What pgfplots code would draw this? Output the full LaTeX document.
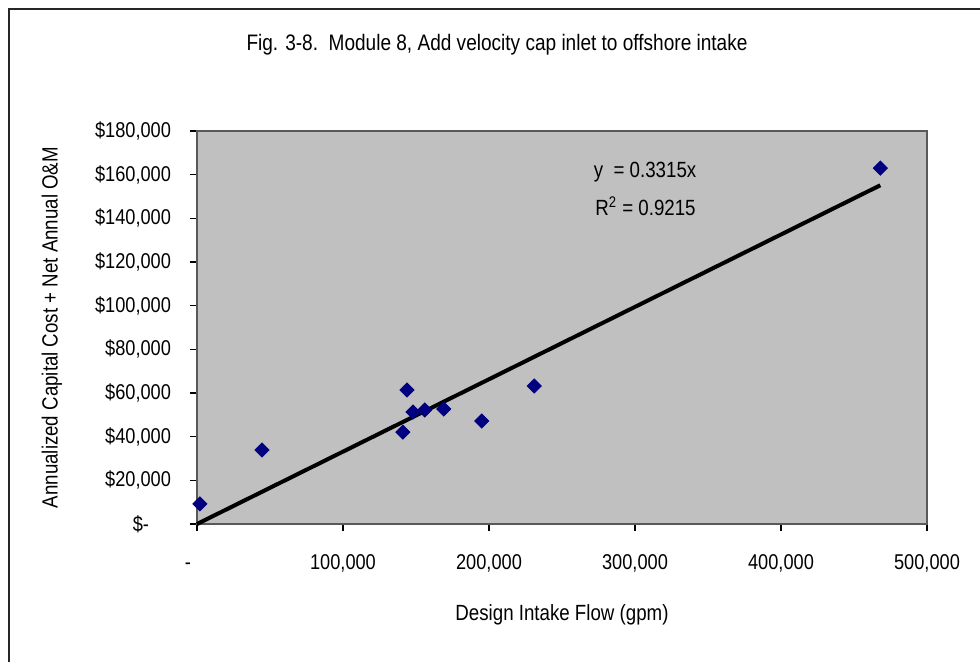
\documentclass[border=0pt]{standalone}
\usepackage{fontspec}
\setmainfont{Liberation Sans}[FakeStretch=0.85]
\usepackage{pgfplots}
\pgfplotsset{compat=1.18}
\definecolor{plotgray}{HTML}{C0C0C0}
\definecolor{marknavy}{HTML}{000080}

\begin{document}
\begin{tikzpicture}
\useasboundingbox (0,0) rectangle (490pt,-330.5pt);
\draw[line width=1pt, black!85] (4.5pt,-331pt) -- (4.5pt,-4.5pt) -- (491pt,-4.5pt);
\node[font=\fontsize{11.2}{13}\selectfont] at (248.5pt,-22.5pt)
  {Fig. 3-8.\ \ Module 8, Add velocity cap inlet to offshore intake};
\begin{axis}[
    at={(98.5pt,-262pt)}, anchor=south west,
    scale only axis,
    width=365pt, height=196.5pt,
    xmin=0, xmax=500000,
    ymin=0, ymax=180000,
    axis background/.style={fill=plotgray},
    axis line style={gray!70!black, line width=0.6pt},
    tick style={black, line width=0.6pt},
    tick align=outside,
    major tick length=3.5pt,
    xtick pos=bottom, ytick pos=left,
    xtick={0,100000,200000,300000,400000,500000},
    xticklabels={{\vphantom{0,}-\rule{9pt}{0pt}},{100,000},{200,000},{300,000},{400,000},{500,000}},
    ytick={0,20000,40000,60000,80000,100000,120000,140000,160000,180000},
    yticklabels={{\$-\rule{11pt}{0pt}},{\$20,000},{\$40,000},{\$60,000},{\$80,000},{\$100,000},{\$120,000},{\$140,000},{\$160,000},{\$180,000}},
    scaled ticks=false,
    ticklabel style={font=\fontsize{10.7}{13}\selectfont},
    xticklabel style={yshift=-8pt},
    yticklabel style={xshift=-6pt},
    label style={font=\fontsize{11}{13}\selectfont},
    xlabel={Design Intake Flow (gpm)},
    xlabel style={at={(axis description cs:0.5,0)}, anchor=center, yshift=-45.5pt},
    ylabel={Annualized Capital Cost + Net Annual O\&M},
    ylabel style={at={(axis description cs:-0.1986,0.5)}, anchor=center},
    clip=false,
]
% trend line y = 0.3315x
\addplot[black, line width=2pt, no markers] coordinates {(0,0) (468000,155142)};
% data points
\addplot[only marks, mark=square*, mark size=2.5pt,
    mark options={rotate=45, fill=marknavy, draw=marknavy}] coordinates {
    (2000,9200)
    (44500,33900)
    (141000,42100)
    (143800,61400)
    (148000,51300)
    (156000,52200)
    (169000,52700)
    (195000,47200)
    (231000,63200)
    (468000,163000)
};
\node[anchor=west, font=\fontsize{11}{13}\selectfont] at (axis cs:267000,161000) {y\ \ = 0.3315x};
\node[anchor=west, font=\fontsize{11}{13}\selectfont] at (axis cs:268000,145500) {R\textsuperscript{2} = 0.9215};
\end{axis}
\end{tikzpicture}
\end{document}
